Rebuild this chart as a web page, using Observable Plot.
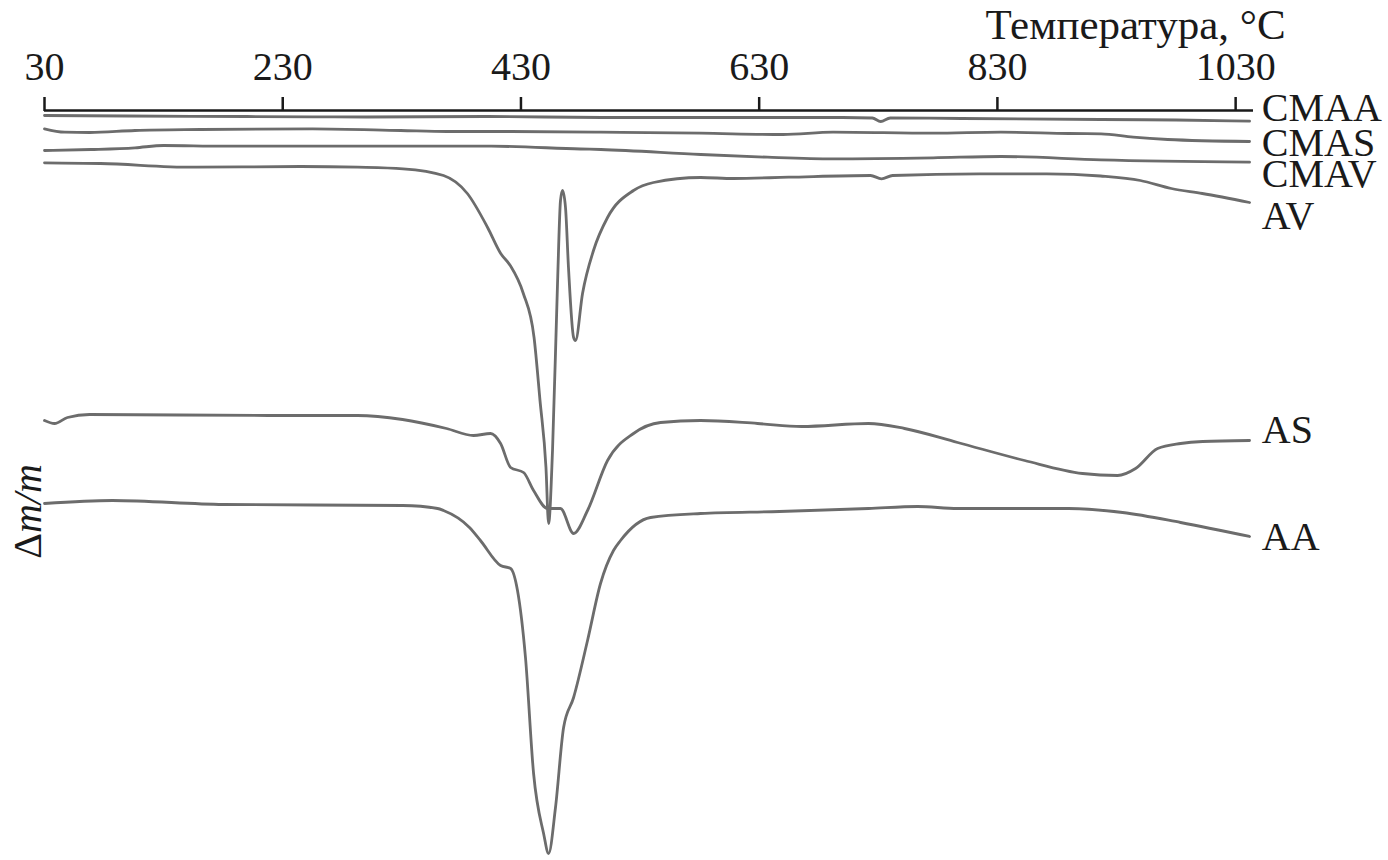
<!DOCTYPE html>
<html><head><meta charset="utf-8">
<script src="https://cdn.jsdelivr.net/npm/d3@7"></script>
<script src="https://cdn.jsdelivr.net/npm/@observablehq/plot@0.6"></script>
<style>body{margin:0;background:#fff;} svg{display:block}</style>
</head><body><div id="chart"></div>
<script>
// Temperature ticks (°C)
const xTicks = [30, 230, 430, 630, 830, 1030];

// Series: [temperature °C, Δm/m (arbitrary units, increasing downward, curves offset)]
const CMAA = [[30,0.5],[100,0.55],[200,0.6],[300,0.65],[400,0.6],[500,0.7],[600,0.7],[700,0.7],[725,0.75],[732,1.1],[740,0.75],[800,0.8],[917,0.9],[980,0.95],[1041.7,1.07]];
const CMAS = [[30,1.83],[47,2.17],[68,2.2],[106,2.0],[161,1.9],[255,1.83],[329,2.0],[368,2.1],[413,2.1],[497,2.17],[581,2.27],[650,2.4],[692,2.17],[776,2.27],[833,2.17],[890,2.3],[917,2.33],[944,2.67],[973,2.9],[1041.7,3.1]];
const CMAV = [[30,4.0],[69,3.9],[106,3.73],[130,3.5],[180,3.57],[405,3.57],[480,3.85],[497,3.9],[581,4.4],[637,4.67],[692,4.83],[776,4.73],[833,4.6],[917,4.93],[1041.7,5.17]];
const AV = [[30,5.23],[77,5.3],[154,5.67],[245,5.6],[293,5.67],[331,5.83],[365,6.5],[385,8.3],[402,11.7],[413,14.3],[421,15.5],[432,18.3],[441,22.7],[446,29.0],[451,35.7],[453.2,41.3],[456.5,34.0],[460.7,17.3],[463.2,9.0],[464.9,8.0],[467.4,9.7],[469.9,15.7],[474.2,22.7],[475.8,23.0],[481.7,18.3],[490.9,14.0],[502.7,10.7],[524.5,8.0],[541.3,7.2],[580.8,6.7],[608.5,6.8],[654.7,6.67],[723.5,6.5],[732.7,6.83],[742,6.5],[815,6.33],[871.3,6.33],[916.6,6.55],[950,7.0],[976,7.8],[1002,8.3],[1041.7,9.2]];
const AS = [[30,31.0],[38.4,31.3],[49.3,30.7],[67.8,30.4],[218,30.5],[292.8,30.5],[330.6,30.9],[367.5,31.8],[390.2,32.5],[404.5,32.3],[412.9,33.3],[421.3,35.7],[432.2,36.2],[440.6,38.0],[452.3,39.8],[463.2,39.8],[474.2,42.3],[485.9,40.0],[502.7,35.0],[524.5,32.3],[547.2,31.2],[580.8,31.0],[628.6,31.3],[665.6,31.6],[721.8,31.3],[752,31.8],[796.6,33.2],[852.8,35.0],[901.5,36.3],[930.9,36.5],[946,35.8],[964.5,33.8],[983.8,33.3],[1002.3,33.1],[1041.7,33.0]];
const AA = [[30,39.3],[87,39.0],[180.3,39.4],[330.6,39.5],[360,39.8],[365,40.0],[386.8,41.7],[396,43.0],[412.9,45.5],[421.3,45.8],[427.1,48.0],[433.8,54.7],[440.6,66.3],[449,72.3],[453.2,74.3],[459,69.7],[465.8,61.7],[474.2,58.7],[485.9,53.0],[496.8,47.3],[507.7,44.0],[513.6,43.0],[538.8,40.7],[580.8,40.3],[647.1,40.1],[721.8,39.8],[763,39.6],[796.6,39.8],[889.7,39.8],[935.1,40.2],[983.8,41.2],[1041.7,42.6]];

const seriesNames = ["CMAA", "CMAS", "CMAV", "AV", "AS", "AA"];
const seriesData = [CMAA, CMAS, CMAV, AV, AS, AA];
const labelY = [-0.2, 3.3, 6.35, 10.6, 32.0, 42.7];
const labelT = 1052;

// Axis titles: text with anchor point [temperature, Δm/m units]
const xTitle = {text: "Температура, °C", t: 1072, v: -8.5};
const yTitle = {text: "Δm/m", t: 16.6, v: 40.1};

const rows = [];
seriesNames.forEach((name, i) => {
  for (const [t, v] of seriesData[i]) rows.push({series: name, t, v});
});
const labels = seriesNames.map((name, i) => ({series: name, t: labelT, v: labelY[i]}));

const chart = Plot.plot({
  width: 1388, height: 860,
  marginTop: 110, marginBottom: 0, marginLeft: 44, marginRight: 135,
  style: {fontFamily: "'Liberation Serif', 'Times New Roman', serif", fontSize: "40px", background: "#fff", color: "#1a1a1a", overflow: "visible"},
  x: {domain: [30, 1045]},
  y: {domain: [0, 75], reverse: true, axis: null},
  marks: [
    Plot.line(rows, {x: "t", y: "v", z: "series", stroke: "#6c6c6c", strokeWidth: 2.8, curve: "monotone-x"}),
    Plot.ruleY([0], {stroke: "#1a1a1a", strokeWidth: 2.5}),
    Plot.axisX(xTicks, {anchor: "top", tickSize: 14, tickPadding: 17, fontSize: 40, label: null, strokeWidth: 2.5, tickFormat: d => String(d)}),
    Plot.text(labels, {x: "t", y: "v", text: "series", textAnchor: "start", lineAnchor: "middle", fontSize: 40, fill: "#1a1a1a"}),
    Plot.text([xTitle], {x: "t", y: "v", text: "text", textAnchor: "end", lineAnchor: "middle", fontSize: 43, fill: "#1a1a1a"}),
    Plot.text([yTitle], {x: "t", y: "v", text: "text", rotate: -90, textAnchor: "middle", lineAnchor: "middle", fontSize: 40, fill: "#1a1a1a"})
  ]
});

d3.select(chart).selectAll("text").filter(function() { return this.textContent === "Δm/m"; })
  .each(function() {
    const t = d3.select(this);
    t.text(null);
    t.append("tspan").attr("font-style", "normal").text("Δ");
    t.append("tspan").attr("font-style", "italic").text("m/m");
  });

document.getElementById("chart").appendChild(chart);
</script>
</body></html>
